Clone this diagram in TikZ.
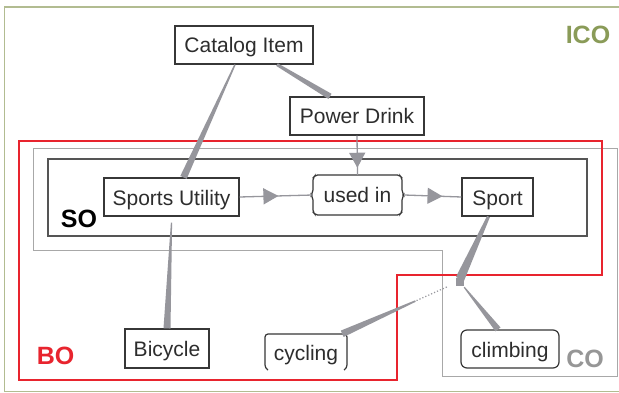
\documentclass[tikz,border=0pt]{standalone}
\usepackage{fontspec}
\setmainfont{Liberation Sans}
\usetikzlibrary{calc,arrows.meta,decorations.markings}

\definecolor{icoline}{RGB}{178,188,145}
\definecolor{icotext}{RGB}{138,155,88}
\definecolor{boline}{RGB}{232,36,46}
\definecolor{coline}{RGB}{168,168,168}
\definecolor{cotext}{RGB}{150,150,150}
\definecolor{soline}{RGB}{85,85,85}
\definecolor{conn}{RGB}{150,150,156}
\definecolor{boxc}{RGB}{55,55,55}
\definecolor{txtc}{RGB}{45,45,45}

% tapered connector: from #1 (half width #3) to #2 (half width #4)
\newcommand\taperline[4]{%
  \fill[conn] ($(#1)!#3!90:(#2)$) -- ($(#1)!#3!-90:(#2)$)
    -- ($(#2)!#4!90:(#1)$) -- ($(#2)!#4!-90:(#1)$) -- cycle;}

\tikzset{
  lbl/.style={font=\fontsize{21}{21}\selectfont, text=txtc, inner sep=0pt,
    text height=18pt, text depth=2pt},
  box/.style={lbl, draw=boxc, line width=1.2pt, fill=white},
  outline/.style={draw=boxc, line width=1.2pt, fill=white},
  grp/.style={font=\bfseries\fontsize{25}{25}\selectfont, inner sep=0pt},
  link/.style={draw=conn, line width=1.3pt},
  midarrow/.style={postaction={decorate}, decoration={markings,
    mark=at position #1 with {\arrow[conn]{Triangle[length=15pt,width=16pt]}}}},
}

\begin{document}
\begin{tikzpicture}[x=1pt,y=-1pt]
\useasboundingbox (0,0) rectangle (619,393);
\fill[white] (0,0) rectangle (619,393);

% group outlines
\draw[icoline, line width=1.5pt] (4.5,7) rectangle (630,391.5);
\draw[coline, line width=1pt] (33,149) -- (617,149) -- (617,376) -- (442,376)
  -- (442,250) -- (33,250) -- cycle;
\draw[boline, line width=1.2pt] (19,141) -- (602,141) -- (602,275) -- (397,275)
  -- (397,380) -- (19,380) -- cycle;
\draw[soline, line width=1.1pt] (48,159) rectangle (587,236);

% group labels
\node[grp, text=icotext] (ico) at (588,34.5) {ICO};
\node[grp, text=black] (so) at (79,218.5) {SO};
\node[grp, text=boline] (bo) at (55.5,356) {BO};
\node[grp, text=cotext] (co) at (585,358.5) {CO};

% concepts
\node[box, minimum width=138pt, minimum height=38pt] (cat) at (244,45) {Catalog Item};
\node[box, minimum width=134pt, minimum height=38pt] (pd) at (357,116) {Power Drink};
\node[box, minimum width=135pt, minimum height=38pt] (su) at (171.5,197) {Sports Utility};
\node[box, minimum width=71pt, minimum height=38pt] (sp) at (497.5,197) {Sport};
\node[box, minimum width=84pt, minimum height=39pt] (bi) at (167,348.5) {Bicycle};
\node[box, rounded corners=6pt, minimum width=98pt, minimum height=38pt] (cl) at (510,349) {climbing};

% relation node with brace-like sides
\node[lbl, minimum width=89pt, minimum height=40pt] (ui) at (357.5,195) {};
\draw[outline, rounded corners=2pt, shift={(ui.center)}]
  (-42,-20) -- (42,-20) -- (44.5,-17) -- (44.5,-3) -- (46.5,0) -- (44.5,3)
  -- (44.5,17) -- (42,20) -- (-42,20) -- (-44.5,17) -- (-44.5,3) -- (-46.5,0)
  -- (-44.5,-3) -- (-44.5,-17) -- cycle;
\node[lbl] at (ui.center) {used in};

% instance node, open at the bottom
\node[lbl, minimum width=82pt, minimum height=36pt] (cy) at (306,352) {};
\fill[white, shift={(cy.center)}] (-41,-18) rectangle (41,18);
\draw[boxc, line width=1.2pt, rounded corners=3pt, shift={(cy.center)}]
  (-38,18) -- (-41,16) -- (-41,-18) -- (41,-18) -- (41,16) -- (38,18);
\node[lbl] at (cy.center) {cycling};

% junction
\node[fill=conn, minimum size=8pt, inner sep=0pt] (jn) at (460,282) {};

% tapered links
\coordinate (c1a) at ($(cat.south)+(-9,0)$);
\coordinate (c1b) at ($(su.north)+(12,0)$);
\taperline{c1a}{c1b}{0.7pt}{3.5pt}
\coordinate (c2a) at ($(cat.south)+(33,0)$);
\coordinate (c2b) at ($(pd.north)+(-27,0)$);
\taperline{c2a}{c2b}{1.5pt}{3pt}
\coordinate (c3a) at ($(su.south)+(0,6)$);
\coordinate (c3b) at (bi.north);
\taperline{c3a}{c3b}{0.6pt}{3.5pt}
\coordinate (c4a) at ($(sp.south)+(-9,0)$);
\coordinate (c4b) at ($(jn.north)+(0,1)$);
\taperline{c4a}{c4b}{1.5pt}{4.5pt}
\coordinate (c5a) at ($(jn.west)+(-9,5)$);
\coordinate (c5b) at ($(cy.north east)+(-5,0)$);
\coordinate (c5m) at ($(c5a)!0.3!(c5b)$);
\draw[conn, line width=1.2pt, dotted] (c5a) -- (c5m);
\taperline{c5m}{c5b}{0.8pt}{3.5pt}
\coordinate (c6a) at ($(jn.south east)+(0,1)$);
\coordinate (c6b) at ($(cl.north)+(-12,0)$);
\taperline{c6a}{c6b}{0.6pt}{3.2pt}

% directed links with mid arrows
\draw[link, midarrow=0.82] (pd.south) -- (ui.north);
\draw[link, midarrow=0.53] (su.east) -- (ui.west);
\draw[link, midarrow=0.67] ($(ui.east)+(2,0)$) -- (sp.west);
\end{tikzpicture}
\end{document}
